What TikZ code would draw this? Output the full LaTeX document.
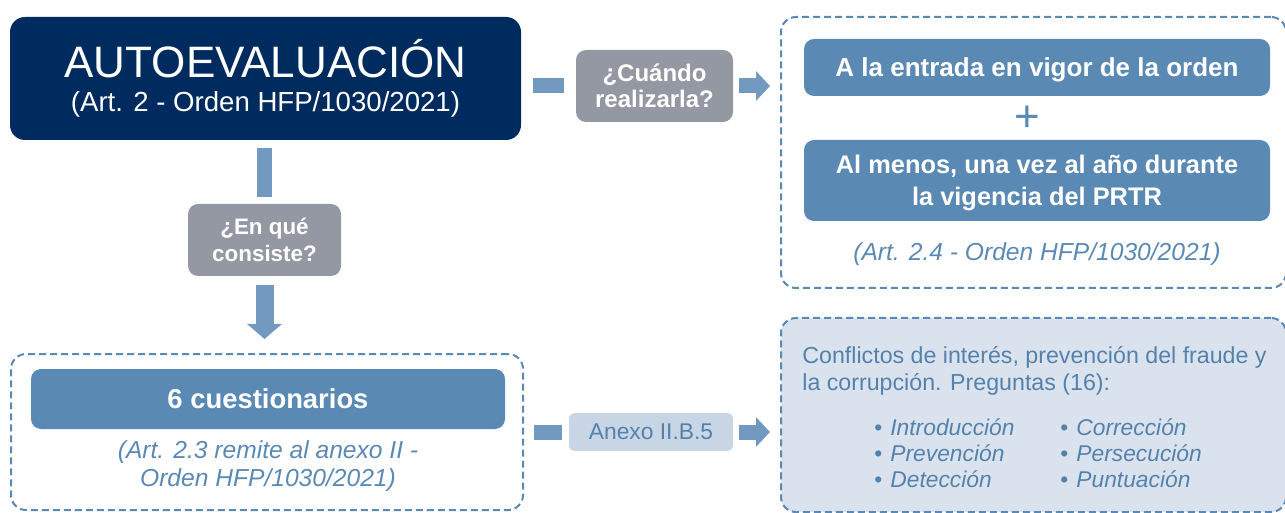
\documentclass[tikz,border=0pt]{standalone}
\usepackage{fontspec}
\setmainfont{Liberation Sans}
\definecolor{navy_c}{rgb}{
	0.0, 0.17, 0.37
	}
\definecolor{box_c}{rgb}{
	0.353, 0.537, 0.706
	}
\definecolor{bar_c}{rgb}{
	0.447, 0.604, 0.753
	}
\definecolor{ask_c}{rgb}{
	0.576, 0.596, 0.639
	}
\definecolor{pale_c}{rgb}{
	0.855, 0.890, 0.929
	}
\definecolor{tag_c}{rgb}{
	0.780, 0.835, 0.894
	}
\definecolor{text_c}{rgb}{
	0.33, 0.51, 0.68
	}
\usetikzlibrary{arrows.meta,
                calc,
                positioning}

\begin{document}
\begin{tikzpicture}[
			x=0.5pt, y=-0.5pt,
			every node/.style = {inner sep=0pt, align=center},
			dashframe/.style = {draw=box_c, line width=1pt, dash pattern=on 3.5pt off 2pt, rounded corners=7.5pt},
			mainbox/.style = {fill=navy_c, text=white, rounded corners=7.5pt, minimum width=255.5pt, minimum height=61.5pt},
			ask/.style = {fill=ask_c, text=white, rounded corners=5pt},
			topic/.style = {fill=box_c, text=white, rounded corners=5pt, text depth=0pt},
			note/.style = {text=box_c},
			bar/.style = {draw=bar_c, line width=7.5pt},
			harrow/.style = {bar, -{Triangle[length=7pt, width=14.5pt]}},
			varrow/.style = {draw=bar_c, line width=9pt, -{Triangle[length=7.5pt, width=17pt]}},
			]
			\useasboundingbox (0,0) rectangle (1285,513);
			% dashed frames
			\node[dashframe, minimum width=252.5pt, minimum height=135.5pt] (when) at (1033.5,152.5) {};
			\node[dashframe, minimum width=256pt, minimum height=78pt] (what) at (267,432) {};
			\node[dashframe, fill=pale_c, minimum width=252.5pt, minimum height=97pt] (fraud) at (1033.5,415) {};
			% boxes
			\node[mainbox] (auto) at (265.5,78.5) {{\fontsize{22}{16.5}\selectfont AUTOEVALUACIÓN}\\[5pt]\fontsize{13.8}{16.5}\selectfont (Art. 2 - Orden HFP/1030/2021)};
			\node[ask, minimum width=78.5pt, minimum height=36pt, font=\bfseries\fontsize{12}{13}\selectfont] (cuando) at (654.5,86) {¿Cuándo\\realizarla?};
			\node[ask, minimum width=76.5pt, minimum height=36pt, font=\bfseries\fontsize{11.2}{13.5}\selectfont] (enque) at (264.5,240) {¿En qué\\consiste?};
			\node[topic, minimum width=233pt, minimum height=28.5pt, font=\bfseries\fontsize{13}{16}\selectfont] (entrada) at (1037,67.5) {A la entrada en vigor de la orden};
			\node[note, font=\fontsize{22}{22}\selectfont] (plus) at (1027,119) {+};
			\node[topic, minimum width=233pt, minimum height=40.5pt, font=\bfseries\fontsize{12.7}{16}\selectfont] (anual) at (1037,180.5) {Al menos, una vez al año durante\\la vigencia del PRTR};
			\node[note, font=\itshape\fontsize{12.3}{15}\selectfont] (art24) at (1037,254) {(Art. 2.4 - Orden HFP/1030/2021)};
			\node[topic, minimum width=237pt, minimum height=30pt, font=\bfseries\fontsize{13.7}{16}\selectfont] (cuest) at (268,399) {6 cuestionarios};
			\node[note, font=\itshape\fontsize{12.3}{14}\selectfont] (art23) at (268,466) {(Art. 2.3 remite al anexo II -\\Orden HFP/1030/2021)};
			\node[fill=tag_c, text=text_c, rounded corners=3pt, minimum width=82pt, minimum height=19pt, font=\fontsize{11.4}{13}\selectfont] (anexo) at (651,432) {Anexo II.B.5};
			\node[text=text_c, anchor=west, align=left, font=\fontsize{11.6}{13.25}\selectfont] (conflict) at (802,371) {Conflictos de interés, prevención del fraude y\\la corrupción. Preguntas (16):};
			\node[text=text_c, anchor=west, align=left, font=\fontsize{11.4}{13}\selectfont] (listA) at (874,453) {•\hspace{4pt}\textit{Introducción}\\•\hspace{4pt}\textit{Prevención}\\•\hspace{4pt}\textit{Detección}};
			\node[text=text_c, anchor=west, align=left, font=\fontsize{11.4}{13}\selectfont] (listB) at (1060,453) {•\hspace{4pt}\textit{Corrección}\\•\hspace{4pt}\textit{Persecución}\\•\hspace{4pt}\textit{Puntuación}};
			% connectors
			\draw[bar, shorten <=6pt, shorten >=6pt] (auto.east |- cuando) -- (cuando.west);
			\draw[harrow, shorten <=3pt, shorten >=5pt] (cuando.east) -- (cuando -| when.west);
			\draw[bar, shorten <=4pt, shorten >=3.5pt] (enque.north |- auto.south) -- (enque.north);
			\draw[varrow, shorten <=4.5pt, shorten >=7pt] (enque.south) -- (enque.south |- what.north);
			\draw[bar, shorten <=5pt, shorten >=3.5pt] (what.east |- anexo) -- (anexo.west);
			\draw[harrow, shorten <=3pt, shorten >=5pt] (anexo.east) -- (anexo -| fraud.west);
		\end{tikzpicture}
\end{document}
